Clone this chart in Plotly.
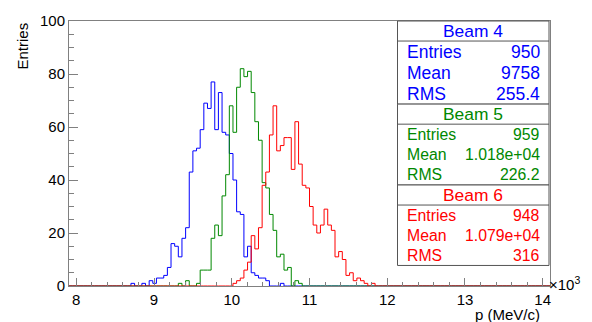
import plotly.graph_objects as go

# Histogram binning (momentum in MeV/c)
HIST_MIN, HIST_MAX, N_BINS = 7906.25, 14093.75, 132

# Bin contents, listed from the first filled bin onwards
beam4_first_bin = 17
beam4_counts = [1, 0, 0, 1, 0, 2, 1, 3, 3, 4, 7, 16, 15, 11, 18, 22, 43, 51, 52, 59,
                69, 67, 77, 59, 73, 58, 57, 50, 40, 28, 27, 11, 15, 5, 4, 3, 3, 2,
                0, 0, 0, 1]

beam5_first_bin = 30
beam5_counts = [1, 0, 2, 0, 0, 1, 6, 6, 6, 18, 23, 19, 34, 42, 68, 58, 75, 82, 79, 81,
                73, 62, 55, 39, 37, 27, 21, 11, 12, 6, 7, 0, 2, 1]

beam6_first_bin = 45
beam6_counts = [1, 2, 3, 6, 9, 19, 14, 22, 38, 43, 57, 68, 51, 53, 56, 56, 44, 62, 46,
                38, 37, 30, 23, 20, 23, 29, 23, 21, 11, 13, 10, 4, 5, 2, 3, 2, 1, 0, 1]

# Statistics box contents
beam_titles = ["Beam 4", "Beam 5", "Beam 6"]
beam_colors = ["#0000ff", "#008800", "#ff0000"]
stat_entries = ["950", "959", "948"]
stat_means = ["9758", "1.018e+04", "1.079e+04"]
stat_rms = ["255.4", "226.2", "316"]

# Axis ticks
x_tick_values = [8000, 9000, 10000, 11000, 12000, 13000, 14000]
x_tick_labels = ["8", "9", "10", "11", "12", "13", "14"]

FONT = "Liberation Sans, Arial, Helvetica, sans-serif"
W, H = 592, 322
ML, MR, MT, MB = 69, 42, 15, 36
PW, PH = W - ML - MR, H - MT - MB


def px_x(px):
    return (px - ML) / PW


def px_y(py):
    return (H - MB - py) / PH


def histogram_outline(first_bin, counts):
    full = [0] * N_BINS
    full[first_bin:first_bin + len(counts)] = counts
    step = (HIST_MAX - HIST_MIN) / N_BINS
    edges = [HIST_MIN + i * step for i in range(N_BINS + 1)]
    return edges, full + [full[-1]]


fig = go.Figure()
for first, counts, color in zip([beam4_first_bin, beam5_first_bin, beam6_first_bin],
                                [beam4_counts, beam5_counts, beam6_counts],
                                beam_colors):
    xs, ys = histogram_outline(first, counts)
    fig.add_trace(go.Scatter(x=xs, y=ys, mode="lines", line=dict(color=color, width=1, shape="hv"),
                             hoverinfo="skip"))

axis_col = "#808080"
fig.update_layout(
    width=W, height=H,
    margin=dict(l=ML, r=MR, t=MT, b=MB, pad=0),
    paper_bgcolor="white", plot_bgcolor="white",
    showlegend=False,
    font=dict(family=FONT, size=15, color="black"),
    xaxis=dict(range=[HIST_MIN, HIST_MAX], tickvals=x_tick_values, ticktext=x_tick_labels,
               ticks="inside", ticklen=8, tickcolor=axis_col, tickwidth=1,
               showline=True, linecolor=axis_col, linewidth=1, mirror=True,
               showgrid=False, zeroline=False,
               minor=dict(tick0=8000, dtick=200, ticks="inside", ticklen=4, tickcolor=axis_col)),
    yaxis=dict(range=[0, 100], tick0=0, dtick=20,
               ticks="inside", ticklen=9, tickcolor=axis_col, tickwidth=1,
               showline=True, linecolor=axis_col, linewidth=1, mirror=True,
               showgrid=False, zeroline=False,
               minor=dict(tick0=0, dtick=5, ticks="inside", ticklen=4.5, tickcolor=axis_col)),
)

annotations = [
    dict(text="p (MeV/c)", x=px_x(542), y=px_y(315), xanchor="right", yanchor="middle",
         font=dict(size=15)),
    dict(text="Entries", x=px_x(22), y=px_y(15), xanchor="center", yanchor="top",
         textangle=-90, font=dict(size=15)),
    dict(text="\u00d710<sup>3</sup>", x=px_x(547), y=px_y(283), xanchor="left", yanchor="middle",
         font=dict(size=15)),
]

shapes = []
box_left, box_right = 397.5, 549
box_tops = [15, 100, 182.7]
box_bottoms = [100, 182.7, 265]
row_sizes = [17.5, 15.8, 15.8]
for i in range(3):
    top, bottom = box_tops[i], box_bottoms[i]
    sep = top + 20.5
    shapes.append(dict(type="rect", xref="paper", yref="paper",
                       x0=px_x(box_left), x1=px_x(box_right), y0=px_y(bottom), y1=px_y(top),
                       line=dict(color="#555555", width=1), fillcolor="white", layer="above"))
    shapes.append(dict(type="line", xref="paper", yref="paper",
                       x0=px_x(box_left), x1=px_x(box_right), y0=px_y(sep), y1=px_y(sep),
                       line=dict(color="#555555", width=1), layer="above"))
    color = beam_colors[i]
    annotations.append(dict(text=beam_titles[i], x=px_x((box_left + box_right) / 2),
                            y=px_y((top + sep) / 2), xanchor="center", yanchor="middle",
                            font=dict(size=17.4, color=color)))
    rows = [("Entries", stat_entries[i]), ("Mean", stat_means[i]), ("RMS", stat_rms[i])]
    row_h = (bottom - sep) / 3
    for j, (name, val) in enumerate(rows):
        yc = sep + row_h * (j + 0.5)
        annotations.append(dict(text=name, x=px_x(405), y=px_y(yc), xanchor="left", yanchor="middle",
                                font=dict(size=row_sizes[i], color=color)))
        annotations.append(dict(text=val, x=px_x(542), y=px_y(yc), xanchor="right", yanchor="middle",
                                font=dict(size=row_sizes[i], color=color)))

for a in annotations:
    a.update(xref="paper", yref="paper", showarrow=False)

fig.update_layout(annotations=annotations, shapes=shapes)
fig.write_html("out.html")
